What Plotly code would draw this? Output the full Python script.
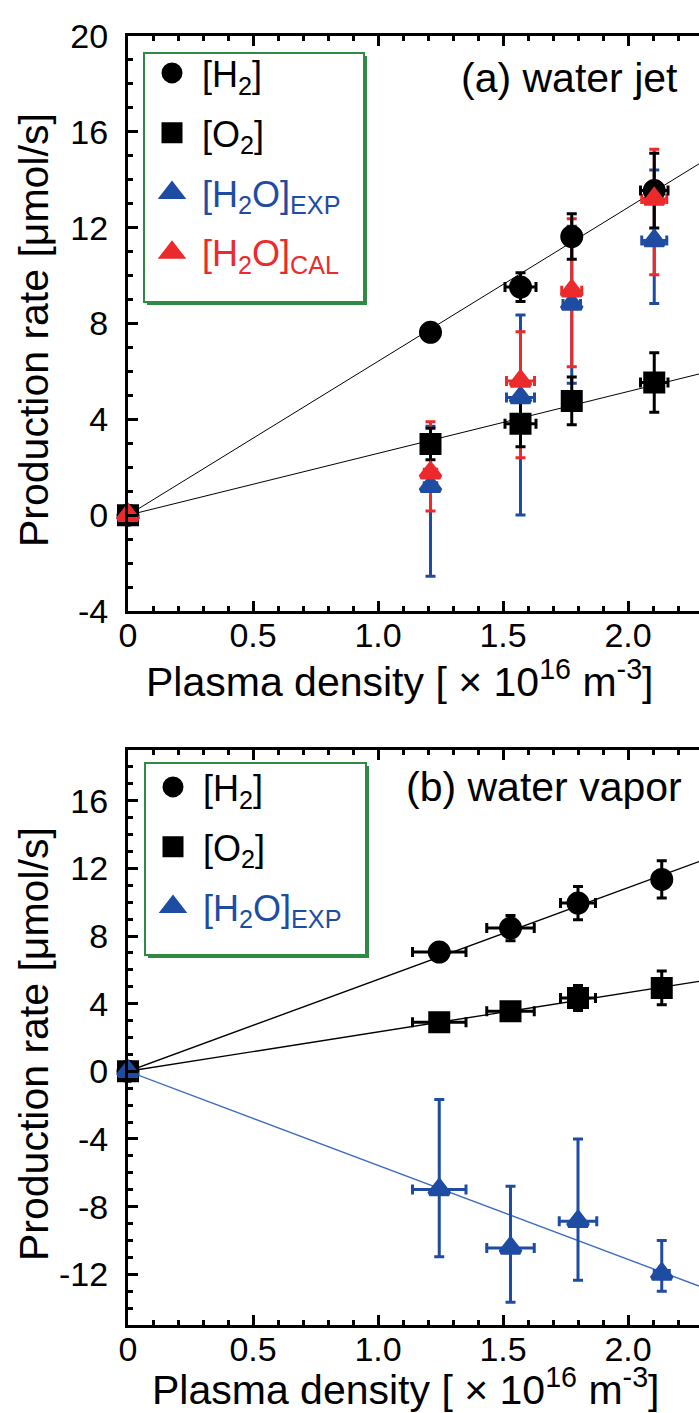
import numpy as np
import plotly.graph_objects as go

# ---------------- data ----------------
# (a) water jet
density_a = [0.0, 1.21, 1.57, 1.775, 2.105]
h2_a = [0.0, 7.63, 9.52, 11.63, 13.55]
h2_a_err = [0.0, 0.0, 0.6, 0.95, 1.56]
h2_a_xerr = [0.0, 0.0, 0.062, 0.0, 0.055]
o2_a = [0.0, 2.97, 3.82, 4.77, 5.54]
o2_a_err = [0.0, 0.66, 0.96, 1.0, 1.24]
o2_a_xerr = [0.0, 0.0, 0.062, 0.0, 0.055]
h2o_exp_a = [0.0, 1.21, 4.91, 8.81, 11.46]
h2o_exp_a_up = [0.0, 2.5, 3.45, 3.25, 2.95]
h2o_exp_a_down = [0.0, 3.76, 4.9, 3.3, 2.62]
h2o_exp_a_xerr = [0.0, 0.025, 0.056, 0.035, 0.05]
h2o_cal_a = [0.0, 1.77, 5.6, 9.37, 13.2]
h2o_cal_a_up = [0.0, 2.13, 2.06, 3.0, 2.07]
h2o_cal_a_down = [0.0, 1.6, 3.2, 3.18, 3.16]
h2o_cal_a_xerr = [0.0, 0.025, 0.056, 0.04, 0.05]
slope_h2_a = 6.42
slope_o2_a = 2.58

# (b) water vapor
density_b = [0.0, 1.245, 1.53, 1.80, 2.135]
h2_b = [0.0, 7.05, 8.47, 9.95, 11.35]
h2_b_err = [0.0, 0.4, 0.75, 0.98, 1.1]
h2_b_xerr = [0.0, 0.107, 0.095, 0.07, 0.0]
o2_b = [0.0, 2.9, 3.55, 4.33, 4.93]
o2_b_err = [0.0, 0.3, 0.4, 0.74, 1.0]
o2_b_xerr = [0.0, 0.107, 0.095, 0.07, 0.0]
h2o_exp_b = [0.0, -6.99, -10.44, -8.87, -11.98]
h2o_exp_b_up = [0.0, 5.32, 3.64, 4.87, 1.98]
h2o_exp_b_down = [0.0, 3.98, 3.21, 3.48, 1.02]
h2o_exp_b_xerr = [0.0, 0.107, 0.095, 0.075, 0.03]
slope_h2_b = 5.43
slope_o2_b = 2.33
slope_h2o_b = -5.56

# ticks
x_tickvals = [0, 0.5, 1.0, 1.5, 2.0]
x_ticktext = ["0", "0.5", "1.0", "1.5", "2.0"]
y_tickvals_a = [-4, 0, 4, 8, 12, 16, 20]
y_tickvals_b = [-12, -8, -4, 0, 4, 8, 12, 16]

# ---------------- styling / geometry ----------------
FONT = "Liberation Sans, Arial, sans-serif"
BLACK = "#000000"
BLUE = "#1f4ca3"
RED = "#ec2a2c"
GREEN = "#2f8a43"
LINEBLUE = "#3b6cc2"

W, H = 699, 1413
ML, MT = 128, 36
PW = W - ML                   # plot area reaches the right edge
PH = 1325 - 36
MB = H - MT - PH
XMAX = 2.284


def px(xp):                   # page pixel -> paper fraction
    return (xp - ML) / PW


def py(yp):
    return (MT + PH - yp) / PH


MLW = 5                       # marker outline (also enlarges legend symbols)

fig = go.Figure()
xline = np.array([0.0, XMAX])


def line(slope, color, width, xa, ya):
    fig.add_trace(go.Scatter(x=xline, y=slope * xline, mode="lines",
                             line=dict(color=color, width=width),
                             showlegend=False, hoverinfo="skip",
                             xaxis=xa, yaxis=ya))


def bars(x, y, up, down, xerr, color, xa, ya):
    fig.add_trace(go.Scatter(
        x=x, y=y, mode="markers",
        marker=dict(size=1, color="rgba(0,0,0,0)"),
        error_y=dict(type="data", symmetric=False, array=up, arrayminus=down,
                     color=color, thickness=3, width=5),
        error_x=dict(type="data", array=xerr, color=color, thickness=3, width=5),
        showlegend=False, cliponaxis=False, hoverinfo="skip",
        xaxis=xa, yaxis=ya))


def pts(x, y, symbol, size, color, name, xa, ya, leg, group,
        yerr=None, xerr=None, ecolor=BLACK):
    kw = {}
    if yerr is not None:
        kw["error_y"] = dict(type="data", array=yerr, color=ecolor,
                             thickness=3, width=5)
    if xerr is not None:
        kw["error_x"] = dict(type="data", array=xerr, color=ecolor,
                             thickness=3, width=5)
    fig.add_trace(go.Scatter(
        x=x, y=y, mode="markers", name=name,
        marker=dict(symbol=symbol, size=size - MLW, color=color,
                    line=dict(width=MLW, color=color)),
        cliponaxis=False, legend=leg, legendgroup=group,
        xaxis=xa, yaxis=ya, **kw))


# ---- panel (a) ----
line(slope_h2_a, BLACK, 1, "x", "y")
line(slope_o2_a, BLACK, 1, "x", "y")
bars(density_a, h2o_exp_a, h2o_exp_a_up, h2o_exp_a_down, h2o_exp_a_xerr, BLUE, "x", "y")
bars(density_a, h2o_cal_a, h2o_cal_a_up, h2o_cal_a_down, h2o_cal_a_xerr, RED, "x", "y")
pts(density_a, h2_a, "circle", 23, BLACK, "[H<sub>2</sub>]", "x", "y", "legend", "a1",
    yerr=h2_a_err, xerr=h2_a_xerr)
pts(density_a, o2_a, "square", 22, BLACK, "[O<sub>2</sub>]", "x", "y", "legend", "a2",
    yerr=o2_a_err, xerr=o2_a_xerr)
pts(density_a, h2o_exp_a, "triangle-up", 22, BLUE,
    f'<span style="color:{BLUE}">[H<sub>2</sub>O]<sub>EXP</sub></span>',
    "x", "y", "legend", "a3")
pts(density_a, h2o_cal_a, "triangle-up", 22, RED,
    f'<span style="color:{RED}">[H<sub>2</sub>O]<sub>CAL</sub></span>',
    "x", "y", "legend", "a4")

# ---- panel (b) ----
line(slope_h2_b, BLACK, 1.4, "x2", "y2")
line(slope_o2_b, BLACK, 1.4, "x2", "y2")
line(slope_h2o_b, LINEBLUE, 1.4, "x2", "y2")
pts(density_b, h2_b, "circle", 23, BLACK, "[H<sub>2</sub>]", "x2", "y2", "legend2", "b1",
    yerr=h2_b_err, xerr=h2_b_xerr)
pts(density_b, o2_b, "square", 22, BLACK, "[O<sub>2</sub>]", "x2", "y2", "legend2", "b2",
    yerr=o2_b_err, xerr=o2_b_xerr)
bars(density_b, h2o_exp_b, h2o_exp_b_up, h2o_exp_b_down, h2o_exp_b_xerr, BLUE, "x2", "y2")
pts(density_b, h2o_exp_b, "triangle-up", 22, BLUE,
    f'<span style="color:{BLUE}">[H<sub>2</sub>O]<sub>EXP</sub></span>',
    "x2", "y2", "legend2", "b3")

# ---------------- axes ----------------
minor_x = dict(tickmode="linear", tick0=0, dtick=0.1, ticks="inside",
               ticklen=5, tickwidth=3, tickcolor=BLACK, showgrid=False)
minor_y = dict(tickmode="linear", tick0=0, dtick=1, ticks="inside",
               ticklen=5, tickwidth=3, tickcolor=BLACK, showgrid=False)


def xaxis(anchor):
    return dict(domain=[0, 1], anchor=anchor, range=[0, XMAX],
                showline=True, linewidth=3, linecolor=BLACK, mirror="ticks",
                ticks="inside", ticklen=10, tickwidth=3, tickcolor=BLACK,
                tickmode="array", tickvals=x_tickvals, ticktext=x_ticktext,
                tickfont=dict(size=34, family=FONT, color=BLACK),
                ticklabelstandoff=-8,
                minor=minor_x, showgrid=False, zeroline=False)


def yaxis(domain, anchor, rng, tickvals):
    return dict(domain=domain, anchor=anchor, range=rng,
                showline=True, linewidth=3, linecolor=BLACK,
                ticks="inside", ticklen=10, tickwidth=3, tickcolor=BLACK,
                tickmode="array", tickvals=tickvals,
                ticktext=[str(v) for v in tickvals],
                tickfont=dict(size=34, family=FONT, color=BLACK),
                ticklabelstandoff=10,
                minor=minor_y, showgrid=False, zeroline=False)


def yright(over, anchor, rng, tickvals):
    return dict(overlaying=over, anchor=anchor, side="right", range=rng,
                showline=False, ticks="inside", ticklen=10, tickwidth=3,
                tickcolor=BLACK, tickmode="array", tickvals=tickvals,
                ticktext=[str(v) for v in tickvals],
                showticklabels=False, minor=minor_y, showgrid=False,
                zeroline=False)


dom_a = [py(611), 1.0]
dom_b = [0.0, py(750)]
rng_a = [-4, 20]
rng_b = [-15, 19]

legend_common = dict(xanchor="left", yanchor="top", bgcolor="rgba(0,0,0,0)",
                     borderwidth=0, font=dict(size=36, family=FONT, color=BLACK),
                     itemwidth=50, tracegroupgap=10, traceorder="grouped",
                     itemsizing="trace")

fig.update_layout(
    width=W, height=H,
    margin=dict(l=ML, r=0, t=MT, b=MB, autoexpand=False),
    paper_bgcolor="white", plot_bgcolor="white",
    font=dict(family=FONT, color=BLACK),
    xaxis=xaxis("y"),
    yaxis=yaxis(dom_a, "x", rng_a, y_tickvals_a),
    yaxis3=yright("y", "x", rng_a, y_tickvals_a),
    xaxis2=xaxis("y2"),
    yaxis2=yaxis(dom_b, "x2", rng_b, y_tickvals_b),
    yaxis4=yright("y2", "x2", rng_b, y_tickvals_b),
    legend=dict(x=px(142), y=py(43), **legend_common),
    legend2=dict(x=px(143), y=py(757), **legend_common),
    hovermode=False,
)


# legend boxes (with drop shadow)
def box(x0, y0, x1, y1):
    return [
        dict(type="rect", xref="paper", yref="paper", layer="above",
             x0=px(x0 + 3), x1=px(x1 + 3), y0=py(y0 + 3), y1=py(y1 + 3),
             fillcolor=GREEN, line=dict(width=0)),
        dict(type="rect", xref="paper", yref="paper", layer="above",
             x0=px(x0), x1=px(x1), y0=py(y0), y1=py(y1),
             fillcolor="white", line=dict(color=GREEN, width=2)),
    ]


fig.update_layout(shapes=box(144, 53, 364, 302) + box(145, 763, 366, 955))

xtitle = "Plasma density [ × 10<sup>16</sup> m<sup>-3</sup>]"
ytitle = "Production rate [μmol/s]"
ann = [
    dict(text=ytitle, x=px(34), y=py(330), textangle=-90),
    dict(text=ytitle, x=px(34), y=py(1044), textangle=-90),
    dict(text=xtitle, x=px(400), y=py(679)),
    dict(text=xtitle, x=px(406), y=py(1387)),
    dict(text="(a) water jet", x=px(680), y=py(78), xanchor="right"),
    dict(text="(b) water vapor", x=px(684), y=py(787), xanchor="right"),
]
for a in ann:
    a.setdefault("xanchor", "center")
    fig.add_annotation(xref="paper", yref="paper", yanchor="middle",
                       showarrow=False, font=dict(size=41, family=FONT, color=BLACK),
                       **a)

# remove the browser's default 8px page margin so the figure sits at (0, 0)
fig.write_html("out.html",
               config={"displayModeBar": False},
               post_script="document.body.style.margin='0px';"
                           "document.body.style.overflow='hidden';")
